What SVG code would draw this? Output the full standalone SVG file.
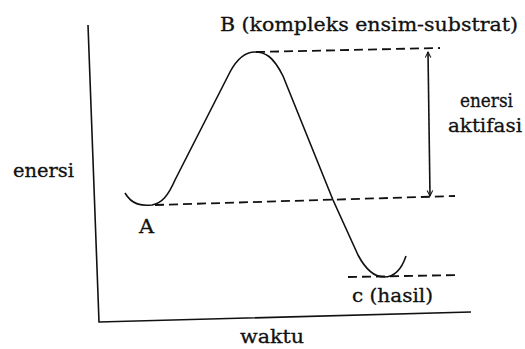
<svg xmlns="http://www.w3.org/2000/svg" width="525" height="349" viewBox="0 0 525 349">
<style>
text{font-family:"DejaVu Serif","Liberation Serif",serif;font-size:18px;fill:#111;stroke:#111;stroke-width:0.3}
.ln{fill:none;stroke:#111;stroke-width:1.6}
.d{fill:none;stroke:#111;stroke-width:1.8;stroke-dasharray:9 5}
</style>
<defs>
<marker id="ah" viewBox="0 0 10 10" refX="9" refY="5" markerWidth="7" markerHeight="7" orient="auto-start-reverse" markerUnits="userSpaceOnUse">
<path d="M1,1 L9,5 L1,9" fill="none" stroke="#111" stroke-width="1.5"/>
</marker>
</defs>
<rect width="525" height="349" fill="#fff"/>
<g id="axes">
<path class="ln" d="M88,25 L99,322 L471,312"/>
</g>
<g id="connectors">
<path class="ln" d="M125,193 C132,205 142,206 152,205 C162,203 168,196 175,180 L230,72 C238,57 246,52 255,52 C265,52 273,56 283,76 L333,200 L358,255 C366,270 374,277 384,277 C395,277 402,268 406,256"/>
<path class="d" d="M256,52 L440,48"/>
<path class="d" d="M155,205 L455,196"/>
<path class="d" d="M348,277 L460,275"/>
<path class="ln" d="M428,52 L430,196" marker-start="url(#ah)" marker-end="url(#ah)"/>
</g>
<g id="B"><text x="220" y="31" textLength="298" lengthAdjust="spacingAndGlyphs">B (kompleks ensim-substrat)</text></g>
<g id="A"><text x="139" y="233" textLength="15" lengthAdjust="spacingAndGlyphs">A</text></g>
<g id="C"><text x="352" y="302" textLength="81" lengthAdjust="spacingAndGlyphs">c (hasil)</text></g>
<g id="yl"><text x="13" y="177" textLength="61" lengthAdjust="spacingAndGlyphs">enersi</text></g>
<g id="xl"><text x="240" y="343" textLength="64" lengthAdjust="spacingAndGlyphs">waktu</text></g>
<g id="ea"><text x="460" y="107" textLength="53" lengthAdjust="spacingAndGlyphs">enersi</text><text x="448" y="132" textLength="74" lengthAdjust="spacingAndGlyphs">aktifasi</text></g>
</svg>
